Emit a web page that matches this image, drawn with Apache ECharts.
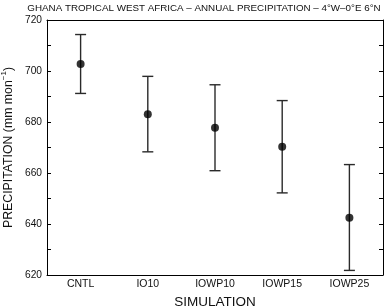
<!DOCTYPE html>
<html>
<head>
<meta charset="utf-8">
<script src="https://cdn.jsdelivr.net/npm/echarts@6/dist/echarts.min.js"></script>
<style>
  html, body { margin: 0; padding: 0; background: #fff; }
  #chart { width: 386px; height: 308px; }
</style>
</head>
<body>
<div id="chart"></div>
<script>
const simulations = ['CNTL', 'IO10', 'IOWP10', 'IOWP15', 'IOWP25'];
const meanPrecip = [702.7, 683.0, 677.7, 670.3, 642.5];
const upperPrecip = [714.3, 697.9, 694.6, 688.4, 663.3];
const lowerPrecip = [691.2, 668.3, 660.9, 652.2, 621.8];

const font = '"Liberation Sans", Arial, Helvetica, sans-serif';

const chart = echarts.init(document.getElementById('chart'));

const errorData = simulations.map((s, i) => [i, lowerPrecip[i], upperPrecip[i]]);

const option = {
    animation: false,
    textStyle: { fontFamily: font },
    title: {
        text: 'GHANA TROPICAL WEST AFRICA \u2013 ANNUAL PRECIPITATION \u2013 4°W\u20130°E 6°N',
        left: 204,
        textAlign: 'center',
        top: 3,
        padding: 0,
        textStyle: { fontFamily: font, fontSize: 9.8, fontWeight: 'normal', color: '#111' }
    },
    grid: { left: 47, right: 3, top: 20, bottom: 33, outerBoundsMode: 'none' },
    xAxis: [
        {
            type: 'category',
            data: simulations,
            boundaryGap: true,
            name: 'SIMULATION',
            nameLocation: 'middle',
            nameGap: 19,
            nameTextStyle: { fontFamily: font, fontSize: 13.5, color: '#111' },
            axisLine: { lineStyle: { color: '#000', width: 1 } },
            axisTick: { inside: true, alignWithLabel: true, length: 4, lineStyle: { color: '#000' } },
            axisLabel: { fontFamily: font, fontSize: 10.5, color: '#111', margin: 4 },
            splitLine: { show: false }
        },
        {
            type: 'category',
            data: simulations,
            position: 'top',
            boundaryGap: true,
            axisLine: { lineStyle: { color: '#000', width: 1 } },
            axisTick: { inside: true, alignWithLabel: true, length: 4, lineStyle: { color: '#000' } },
            axisLabel: { show: false }
        }
    ],
    yAxis: [
        {
            type: 'value',
            min: 620,
            max: 720,
            interval: 20,
            name: 'PRECIPITATION (mm mon{sup|\u22121})',
            nameLocation: 'middle',
            nameGap: 29,
            nameTextStyle: {
                fontFamily: font, fontSize: 12.3, color: '#111',
                rich: { sup: { fontFamily: font, fontSize: 8, color: '#111', verticalAlign: 'top', padding: [0, 0, 8, 0] } }
            },
            axisLine: { show: true, lineStyle: { color: '#000', width: 1 } },
            axisTick: { show: true, inside: true, length: 4, lineStyle: { color: '#000' } },
            minorTick: { show: true, splitNumber: 2, length: 4, lineStyle: { color: '#000' } },
            axisLabel: { fontFamily: font, fontSize: 10.2, color: '#111', margin: 5 },
            splitLine: { show: false }
        },
        {
            type: 'value',
            min: 620,
            max: 720,
            interval: 20,
            position: 'right',
            axisLine: { show: true, lineStyle: { color: '#000', width: 1 } },
            axisTick: { show: true, inside: true, length: 4, lineStyle: { color: '#000' } },
            minorTick: { show: true, splitNumber: 2, length: 4, lineStyle: { color: '#000' } },
            axisLabel: { show: false },
            splitLine: { show: false }
        }
    ],
    series: [
        {
            type: 'custom',
            name: 'range',
            data: errorData,
            renderItem: (params, api) => {
                const x = api.value(0);
                const lo = api.coord([x, api.value(1)]);
                const hi = api.coord([x, api.value(2)]);
                const hw = 5.5;
                const style = { stroke: '#2a2a2a', lineWidth: 1.4 };
                return {
                    type: 'group',
                    children: [
                        { type: 'line', shape: { x1: lo[0], y1: lo[1], x2: hi[0], y2: hi[1] }, style },
                        { type: 'line', shape: { x1: lo[0] - hw, y1: lo[1], x2: lo[0] + hw, y2: lo[1] }, style },
                        { type: 'line', shape: { x1: hi[0] - hw, y1: hi[1], x2: hi[0] + hw, y2: hi[1] }, style }
                    ]
                };
            },
            z: 2
        },
        {
            type: 'scatter',
            name: 'mean',
            data: meanPrecip,
            symbol: 'circle',
            symbolSize: 8,
            itemStyle: { color: '#000' },
            z: 3
        }
    ]
};

chart.setOption(option);
</script>
</body>
</html>
